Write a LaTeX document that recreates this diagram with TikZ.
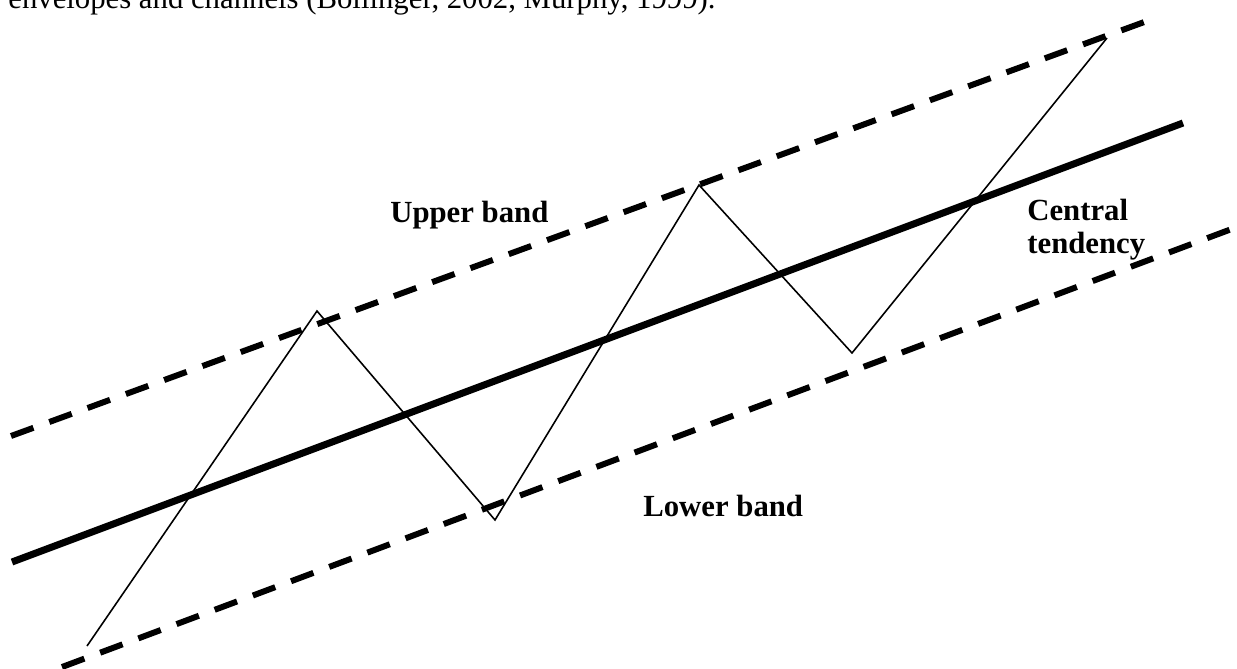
\documentclass[tikz,border=0pt]{standalone}
\usepackage{fontspec}
\setmainfont{Liberation Serif}
\begin{document}
\begin{tikzpicture}[x=0.02cm, y=-0.02cm,
            band/.style={line width=3.4pt, dash pattern=on 13.6pt off 9.6pt},
            trend/.style={line width=4pt},
            price/.style={line width=0.9pt},
            bandlabel/.style={font=\fontsize{17.5}{18.7}\selectfont\bfseries, inner sep=0pt, anchor=base west, align=left}
            ]
            \useasboundingbox (0,0) rectangle (1237,669);

            \node[font=\fontsize{17.5}{21}\selectfont, inner sep=0pt, anchor=base west] (caption) at (8,9) {envelopes and channels (Bollinger, 2002, Murphy, 1999).};

            \coordinate (ua) at (11,436);
            \coordinate (ub) at (1158,17);
            \coordinate (ca) at (12,562);
            \coordinate (cb) at (1183,123);
            \coordinate (la) at (62,667);
            \coordinate (lb) at (1237,227);

            \coordinate (p0) at (87,646);
            \coordinate (p1) at (317,311);
            \coordinate (p2) at (495,520);
            \coordinate (p3) at (699,185);
            \coordinate (p4) at (852,353);
            \coordinate (p5) at (1107,38);

            \draw[band] (ua) -- (ub);
            \draw[trend] (ca) -- (cb);
            \draw[band] (la) -- (lb);

            \draw[price] (p0) -- (p1) -- (p2) -- (p3) -- (p4) -- (p5);

            \node[bandlabel] (upper) at (390,222) {Upper band};
            \node[bandlabel] (lower) at (643,516) {Lower band};
            \node[bandlabel] (central) at (1027,253) {Central\\tendency};

            \end{tikzpicture}
\end{document}
